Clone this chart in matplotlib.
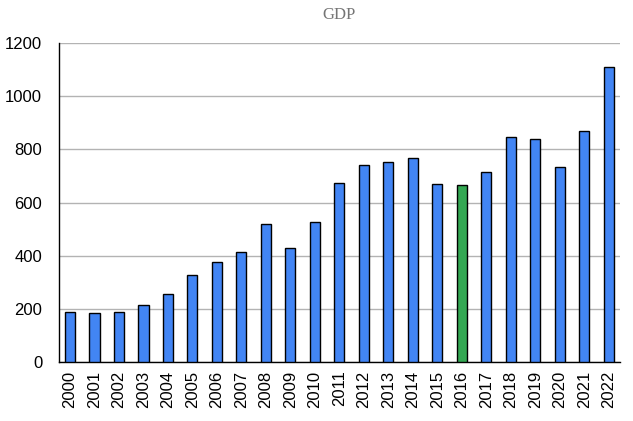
import matplotlib
matplotlib.use("Agg")
import matplotlib.pyplot as plt

years = [str(y) for y in range(2000, 2023)]
gdp = [188, 184, 188, 214, 256, 327, 376, 414, 519, 429, 526, 673, 741, 752, 767,
       669, 665, 714, 846, 838, 733, 870, 1110]
highlight_year = "2016"
yticks = [0, 200, 400, 600, 800, 1000, 1200]

blue = "#4285F4"
green = "#34A853"
colors = [green if y == highlight_year else blue for y in years]

fig = plt.figure(figsize=(6.33, 4.21), dpi=100)
ax = fig.add_axes([0.093, 0.140, 0.886, 0.758])
x = list(range(len(years)))
ax.bar(x, gdp, width=0.42, color=colors, edgecolor="black", linewidth=1.0, zorder=3)

ax.set_ylim(0, 1200)
ax.set_xlim(-0.45, len(years) - 0.55)
ax.set_yticks(yticks)
ax.set_yticklabels([str(v) for v in yticks], fontsize=12, family="Liberation Sans")
ax.set_xticks(x)
ax.set_xticklabels(years, rotation=90, fontsize=12, family="Liberation Sans")
ax.tick_params(axis="y", length=0, pad=12)
ax.tick_params(axis="x", length=0, pad=6)
ax.yaxis.grid(True, color="#b3b3b3", linewidth=1.0, zorder=0)
ax.set_axisbelow(True)
for s in ["top", "right"]:
    ax.spines[s].set_visible(False)
ax.spines["left"].set_color("black")
ax.spines["bottom"].set_color("black")
ax.spines["left"].set_linewidth(1.0)
ax.spines["bottom"].set_linewidth(1.0)

fig.text(0.536, 0.965, "GDP", ha="center", va="center", fontsize=12,
         family="Liberation Serif", color="#757575")

fig.savefig("out.png", dpi=100)
